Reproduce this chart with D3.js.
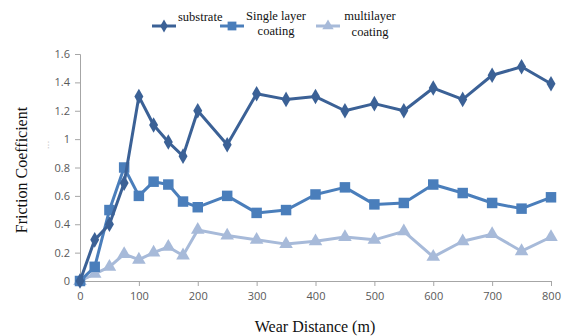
<!DOCTYPE html>
<html><head><meta charset="utf-8">
<script src="https://cdn.jsdelivr.net/npm/d3@7"></script>
<style>body{margin:0;background:#fff;}svg{display:block;}</style>
</head><body>
<svg id="chart" width="567" height="336"></svg>
<script>
const distances = [0,25,50,75,100,125,150,175,200,250,300,350,400,450,500,550,600,650,700,750,800];
const substrate = [0,0.29,0.40,0.69,1.30,1.10,0.98,0.88,1.20,0.96,1.32,1.28,1.30,1.20,1.25,1.20,1.36,1.28,1.45,1.51,1.39];
const singleLayer = [0,0.10,0.50,0.80,0.60,0.70,0.68,0.56,0.52,0.60,0.48,0.50,0.61,0.66,0.54,0.55,0.68,0.62,0.55,0.51,0.59];
const multiLayer = [0,0.05,0.10,0.19,0.15,0.20,0.24,0.18,0.36,0.32,0.29,0.26,0.28,0.31,0.29,0.35,0.17,0.28,0.33,0.21,0.31];
const xTicks = [0,100,200,300,400,500,600,700,800];
const yTicks = [0,0.2,0.4,0.6,0.8,1,1.2,1.4,1.6];
const seriesNames = ["substrate","Single layer coating","multilayer coating"];

const svg = d3.select("#chart");
const x = d3.scaleLinear().domain([0,800]).range([80,551]);
const y = d3.scaleLinear().domain([0,1.6]).range([281,54]);

// axes
const yAxis = svg.append("g").attr("transform","translate(80,0)")
  .call(d3.axisLeft(y).tickValues(yTicks).tickSize(5).tickPadding(5).tickFormat(d=>d3.format("")(+d.toFixed(1))));
const xAxis = svg.append("g").attr("transform","translate(0,281)")
  .call(d3.axisBottom(x).tickValues(xTicks).tickSize(5).tickPadding(6));
[yAxis,xAxis].forEach(a=>{
  a.select(".domain").attr("stroke","#a6a6a6");
  a.selectAll(".tick line").attr("stroke","#a6a6a6");
  a.selectAll(".tick text").attr("fill","#595959").attr("font-family","'Open Sans', 'DejaVu Sans', sans-serif").attr("font-size","11px");
});

const series = [
  {name:seriesNames[0], values:substrate, color:"#3b6196", marker:"diamond", sw:3},
  {name:seriesNames[1], values:singleLayer, color:"#4a7ebb", marker:"square", sw:3},
  {name:seriesNames[2], values:multiLayer, color:"#a7bad9", marker:"triangle", sw:3}
];
const symType = {diamond:d3.symbolDiamond, square:d3.symbolSquare, triangle:d3.symbolTriangle};
const symSize = {diamond:70, square:110, triangle:80};

const line = d3.line().x((d,i)=>x(distances[i])).y(d=>y(d));
// draw in reverse so substrate on top
[...series].reverse().forEach(s=>{
  const g = svg.append("g");
  g.append("path").datum(s.values).attr("d",line).attr("fill","none")
    .attr("stroke",s.color).attr("stroke-width",s.sw).attr("stroke-linejoin","round");
  g.selectAll("path.m").data(s.values).enter().append("path").attr("class","m")
    .attr("transform",(d,i)=>`translate(${x(distances[i])},${y(d)})`)
    .attr("d",d3.symbol().type(symType[s.marker]).size(symSize[s.marker]))
    .attr("fill",s.color);
});

// legend
const legend = [
  {s:series[0], lx:152, lines:["substrate"], tx:178, anchor:"start", ty:[21]},
  {s:series[1], lx:220, lines:["Single layer","coating"], tx:276, anchor:"middle", ty:[20,35]},
  {s:series[2], lx:316, lines:["multilayer","coating"], tx:370, anchor:"middle", ty:[20,36]}
];
legend.forEach(l=>{
  const g = svg.append("g");
  g.append("line").attr("x1",l.lx).attr("x2",l.lx+24).attr("y1",26).attr("y2",26)
    .attr("stroke",l.s.color).attr("stroke-width",3);
  g.append("path").attr("transform",`translate(${l.lx+12},26)`)
    .attr("d",d3.symbol().type(symType[l.s.marker]).size(symSize[l.s.marker]*0.7)).attr("fill",l.s.color);
  l.lines.forEach((t,i)=>{
    g.append("text").attr("x",l.tx).attr("y",l.ty[i]).attr("text-anchor",l.anchor)
      .attr("font-family","'Liberation Serif', serif").attr("font-size","12.5px").attr("fill","#111").text(t);
  });
});

// axis titles
svg.append("text").attr("transform","translate(27,170) rotate(-90)").attr("text-anchor","middle")
  .attr("font-family","'Liberation Serif', serif").attr("font-size","16px").attr("fill","#111").text("Friction Coefficient");
svg.append("text").attr("x",46).attr("y",148).attr("text-anchor","middle")
  .attr("font-family","'DejaVu Sans', sans-serif").attr("font-size","9px").attr("fill","#bbb")
  .attr("transform","rotate(-90,46,145)").text("...");
svg.append("text").attr("x",315).attr("y",332).attr("text-anchor","middle")
  .attr("font-family","'Liberation Serif', serif").attr("font-size","16px").attr("fill","#111").text("Wear Distance (m)");
</script>
</body></html>
